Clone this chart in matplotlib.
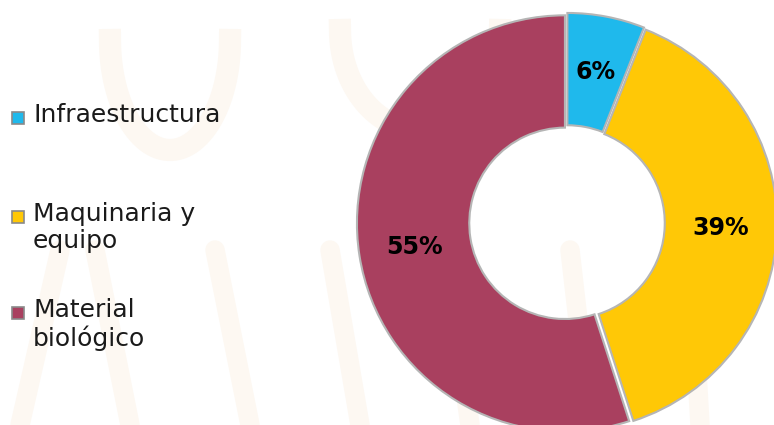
import numpy as np
import matplotlib.pyplot as plt

# data
categorias = ['Infraestructura', 'Maquinaria y\nequipo', 'Material\nbiológico']
porcentajes = [6, 39, 55]
colores = ['#1FB9EC', '#FFC806', '#A9405F']

plt.rcParams['font.family'] = ['DejaVu Sans']

fig = plt.figure(figsize=(7.74, 4.25), dpi=100)
fig.patch.set_facecolor('white')

# faint watermark strokes in the background
bg = fig.add_axes([0, 0, 1, 1])
bg.set_xlim(0, 774)
bg.set_ylim(425, 0)
bg.axis('off')
tono = '#FDF8F2'
for x0, x1 in [(20, 60), (130, 95), (250, 215), (360, 330), (470, 445), (590, 570), (700, 690)]:
    bg.plot([x0, x1], [425, 250], color=tono, lw=14, solid_capstyle='round', zorder=0)
t = np.linspace(np.pi, 2 * np.pi, 60)
bg.plot(170 + 60 * np.cos(t), 40 - 110 * np.sin(t), color=tono, lw=16, zorder=0)
bg.plot(420 + 80 * np.cos(t), 30 - 100 * np.sin(t), color=tono, lw=16, zorder=0)

# donut
ax = fig.add_axes([359 / 774, -6 / 425, 416 / 774, 416 / 425])
wedges, textos, pcts = ax.pie(
    porcentajes, colors=colores, startangle=90, counterclock=False,
    explode=[0.01, 0.01, 0.01],
    autopct='%d%%', pctdistance=0.73,
    wedgeprops=dict(width=0.54, edgecolor='#B5B5B5', linewidth=1.5),
    textprops=dict(fontsize=17, fontweight='bold', color='black'))
ax.set_xlim(-1.0, 1.0)
ax.set_ylim(-1.0, 1.0)
ax.set_aspect('equal')
for w in wedges:
    w.set_clip_on(False)

# legend drawn by hand on the left
ley_y = [118, 217, 313]
for nombre, color, y in zip(categorias, colores, ley_y):
    bg.add_patch(plt.Rectangle((12, y - 6), 12, 12, facecolor=color,
                               edgecolor='#8A8A8A', lw=1.2, zorder=3))
    bg.text(33, y - 15, nombre, fontsize=18, color='#1A1A1A',
            va='top', ha='left', linespacing=1.15, zorder=3)

fig.savefig('out.png', dpi=100, facecolor='white')
